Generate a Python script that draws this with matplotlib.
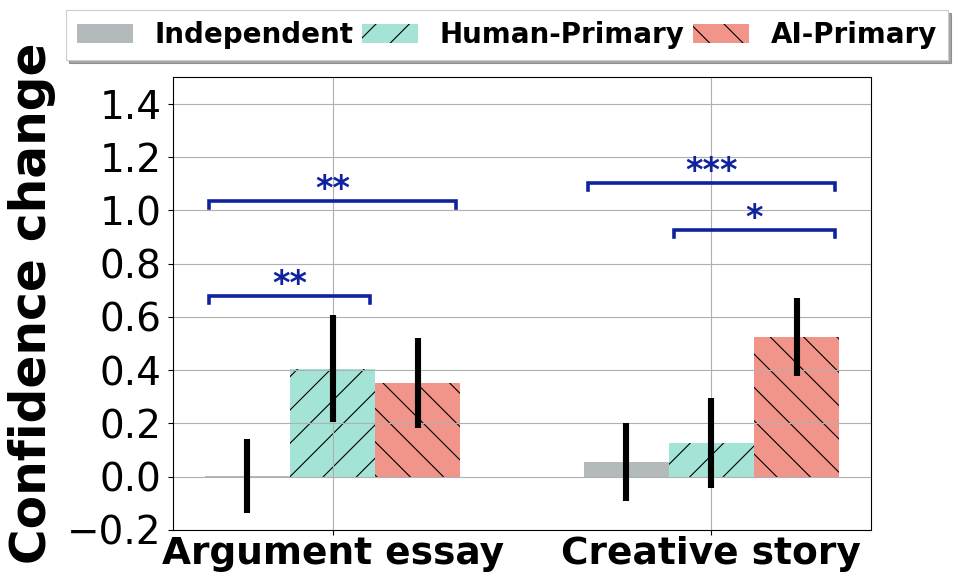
import matplotlib
matplotlib.use('Agg')
import matplotlib.pyplot as plt
import numpy as np

# -- data --
categories = ['Argument essay', 'Creative story']
conditions = ['Independent', 'Human-Primary', 'AI-Primary']

independent_mean = [0.003, 0.056]
human_mean = [0.405, 0.127]
ai_mean = [0.352, 0.525]

independent_err = [0.139, 0.147]
human_err = [0.200, 0.168]
ai_err = [0.170, 0.146]

# significance brackets: group, from bar, to bar, height, label
sig_group = [0, 0, 1, 1]
sig_from = [0, 0, 0, 1]
sig_to = [1, 2, 2, 2]
sig_y = [0.679, 1.036, 1.103, 0.924]
sig_label = ['**', '**', '***', '*']

colors = ['#b2babb', '#a3e4d7', '#f1948a']
hatches = ['', '/', '\\']
star_color = '#10239e'

plt.rcParams['hatch.linewidth'] = 0.8
plt.rcParams['axes.linewidth'] = 0.8

# -- plot --
fig, ax = plt.subplots(figsize=(9.57, 5.86), dpi=100)
fig.subplots_adjust(left=0.1808, right=0.9101, top=0.8686, bottom=0.0956)

x = np.arange(len(categories))
w = 0.225
means = [independent_mean, human_mean, ai_mean]
errs = [independent_err, human_err, ai_err]

bars = []
for k in range(3):
    pos = x + (k - 1) * w
    b = ax.bar(pos, means[k], w, color=colors[k], hatch=hatches[k],
               edgecolor='black', linewidth=0, label=conditions[k])
    bars.append(b)
    ax.errorbar(pos, means[k], yerr=errs[k], fmt='none', ecolor='black',
                elinewidth=4.4, capsize=0)

# brackets
tip = 0.026
for g, i, j, y, lab in zip(sig_group, sig_from, sig_to, sig_y, sig_label):
    x1 = g + (i - 1) * w - 0.1
    x2 = g + (j - 1) * w + 0.1
    ax.plot([x1, x1, x2, x2], [y - tip, y, y, y - tip], color=star_color,
            linewidth=2.6, solid_joinstyle='miter')
    ax.text((x1 + x2) / 2, y + 0.008, lab, ha='center', va='baseline',
            color=star_color, fontsize=24, fontweight='bold')

ax.set_ylim(-0.2, 1.5)
ax.set_yticks(np.arange(-0.2, 1.41, 0.2))
ax.set_xticks(x)
ax.set_xticklabels(categories, fontsize=27, fontweight='bold')
ax.tick_params(axis='y', labelsize=28, length=3.5, width=0.8, pad=5)
ax.tick_params(axis='x', length=3.5, width=0.8, pad=1)
ax.grid(True, color='#b0b0b0', linewidth=0.8)
ax.set_ylabel('Confidence change', fontsize=35, fontweight='bold')
ax.yaxis.set_label_coords(-0.167, 0.5)

leg = fig.legend(handles=bars, labels=conditions, loc='center',
                 bbox_to_anchor=(0.530, 0.940), ncol=3, fancybox=False,
                 shadow=True, columnspacing=0.3,
                 prop={'size': 20, 'weight': 'bold'})
leg.get_frame().set_linewidth(0.8)

plt.savefig('out.png', dpi=100)
